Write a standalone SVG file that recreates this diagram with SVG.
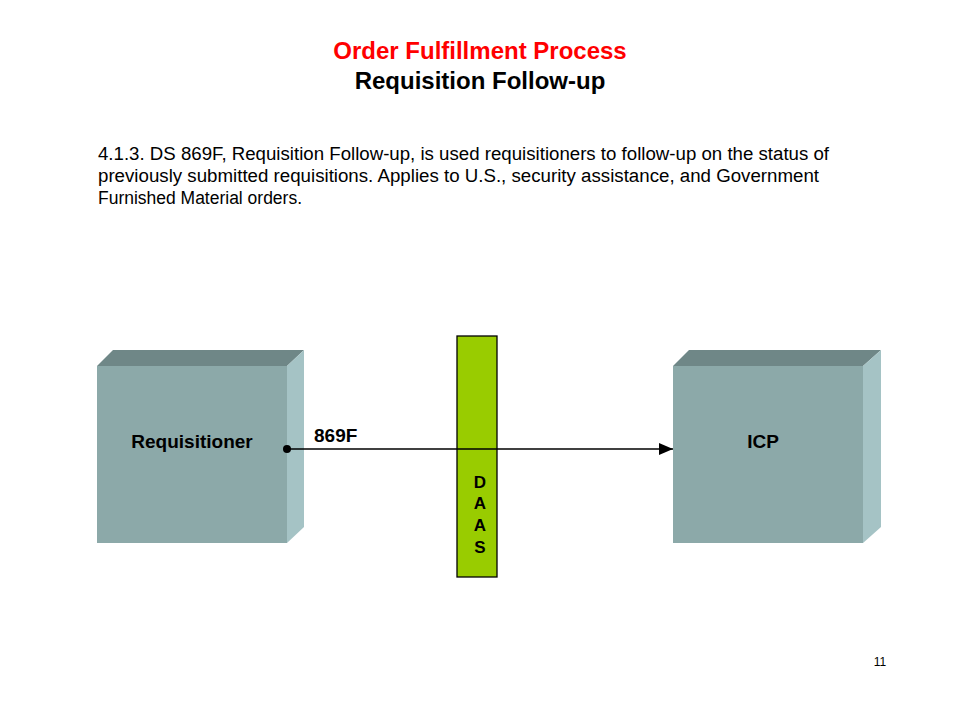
<svg xmlns="http://www.w3.org/2000/svg" width="960" height="720" viewBox="0 0 960 720">
<defs>
<style>
text{font-family:"Liberation Sans",Arial,sans-serif;}
.title{font-size:24px;font-weight:bold;text-anchor:middle;}
.body{font-size:18px;fill:#000;}
.lbl{font-size:19px;font-weight:bold;fill:#000;text-anchor:middle;}
.daas{font-size:17px;font-weight:bold;fill:#000;text-anchor:middle;}
.front{fill:#8CA9A9;}
.top{fill:#6F8787;}
.side{fill:#A5C3C5;}
.conn{stroke:#000;stroke-width:1.3;fill:none;}
</style>
<marker id="arr" markerWidth="14" markerHeight="12" refX="14" refY="6" orient="auto" markerUnits="userSpaceOnUse">
<path d="M0,0 L14,6 L0,12 Z" fill="#000"/>
</marker>
</defs>
<rect width="960" height="720" fill="#fff"/>
<text class="title" x="480" y="59" fill="#FF0000">Order Fulfillment Process</text>
<text class="title" x="480" y="89" fill="#000">Requisition Follow-up</text>
<text class="body" x="98" y="160" textLength="731" lengthAdjust="spacingAndGlyphs">4.1.3. DS 869F, Requisition Follow-up, is used requisitioners to follow-up on the status of</text>
<text class="body" x="98" y="182" textLength="721" lengthAdjust="spacingAndGlyphs">previously submitted requisitions. Applies to U.S., security assistance, and Government</text>
<text class="body" x="98" y="204" textLength="204" lengthAdjust="spacingAndGlyphs">Furnished Material orders.</text>
<g id="requisitioner">
<polygon class="top" points="97,366 113,350 304,350 287,366"/>
<polygon class="side" points="287,366 304,350 304,527 287,543"/>
<rect class="front" x="97" y="366" width="190" height="177"/>
<text class="lbl" x="192" y="448">Requisitioner</text>
</g>
<g id="icp">
<polygon class="top" points="673,366 689,350 881,350 863,366"/>
<polygon class="side" points="863,366 881,350 881,527 863,543"/>
<rect class="front" x="673" y="366" width="190" height="177"/>
<text class="lbl" x="763" y="448">ICP</text>
</g>
<g id="daas">
<rect x="457" y="336" width="40" height="241" fill="#99CC00" stroke="#000" stroke-width="1.3"/>
<text class="daas" x="480" y="488">D</text>
<text class="daas" x="480" y="509">A</text>
<text class="daas" x="480" y="531">A</text>
<text class="daas" x="480" y="553">S</text>
</g>
<g id="connectors">
<line class="conn" x1="287" y1="449" x2="673" y2="449" marker-end="url(#arr)"/>
<circle cx="287" cy="449" r="4" fill="#000"/>
<text x="314" y="442" font-size="19" font-weight="bold" fill="#000">869F</text>
</g>
<text x="880" y="666" font-size="12" fill="#000" text-anchor="middle">11</text>
</svg>
